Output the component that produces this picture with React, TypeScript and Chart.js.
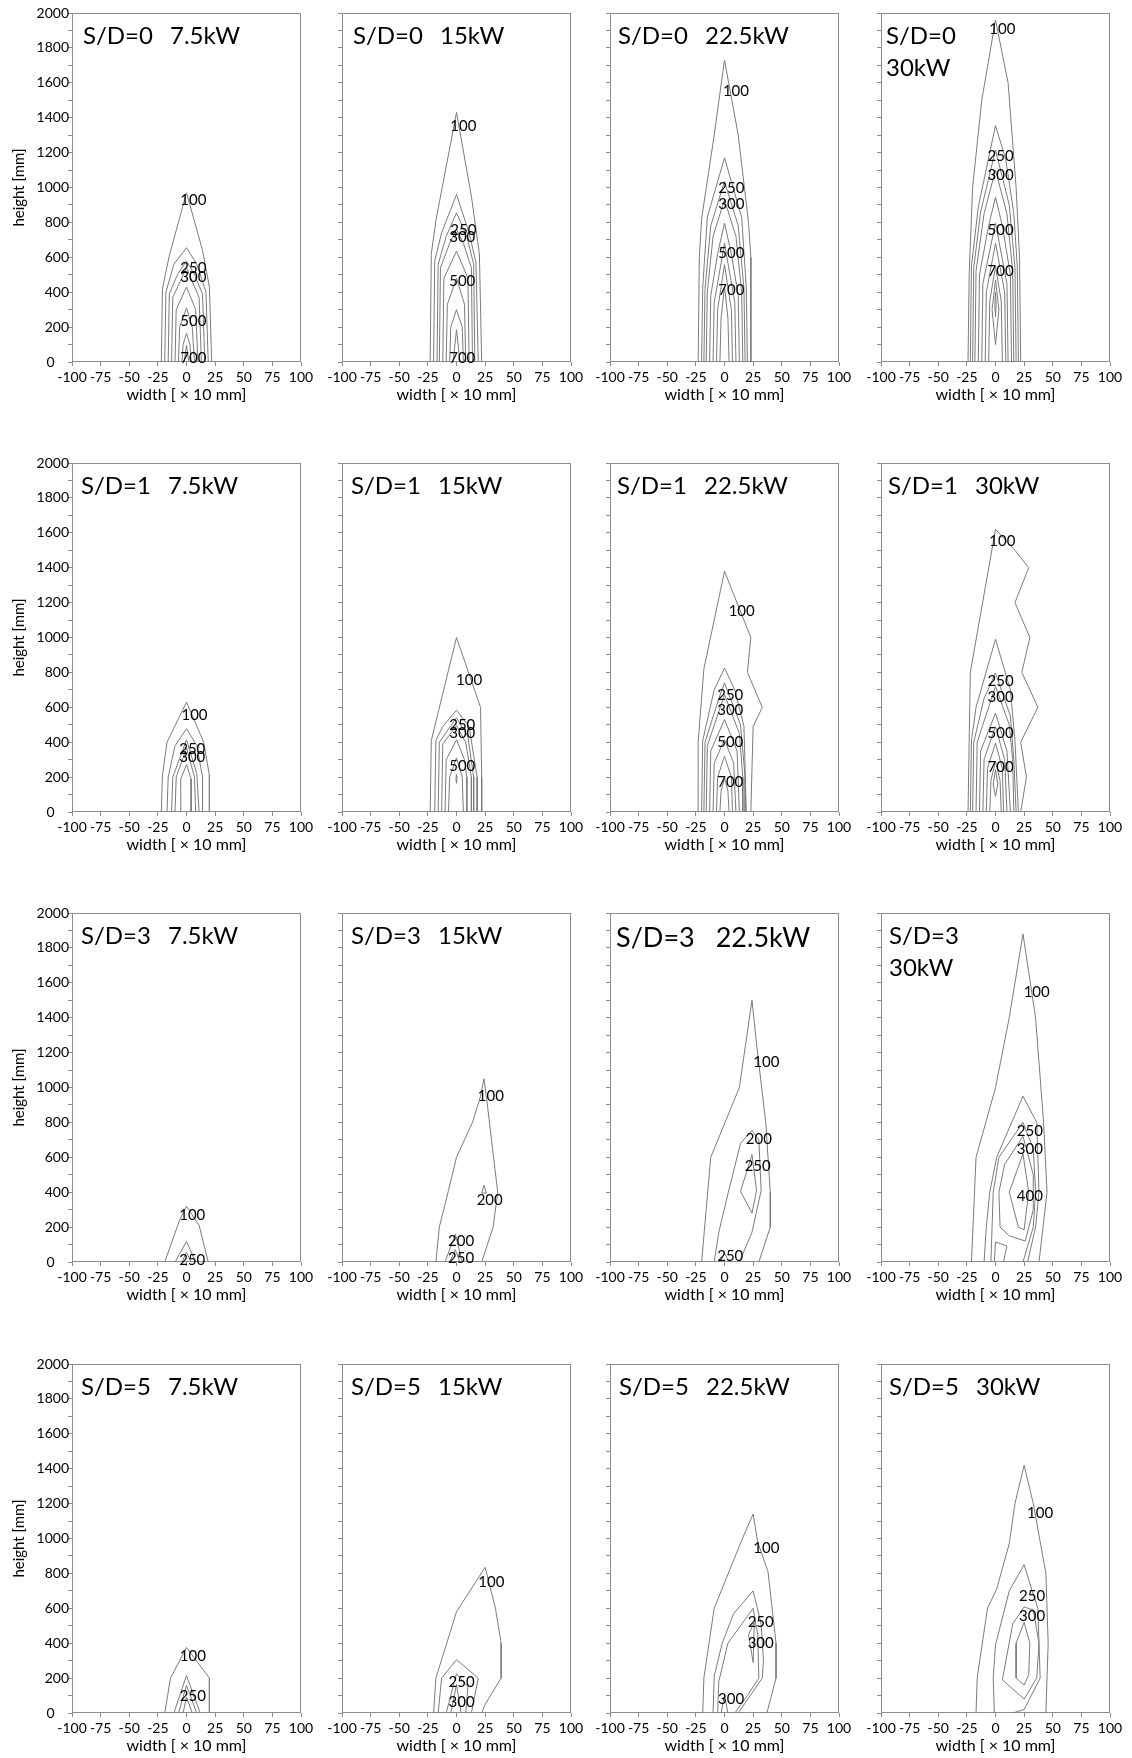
import React, { useEffect, useRef } from 'react';
import { Chart, registerables } from 'chart.js';

Chart.register(...registerables);
Chart.defaults.font.family = 'Lato, "Open Sans", sans-serif';

type Pt = [number, number];
type Contour = { level: number; pts: Pt[] };
type Tag = [number, number, number]; // level, x, y

// ---------- panel headings ----------
const SPACING_LABELS = ['S/D=0', 'S/D=1', 'S/D=3', 'S/D=5'];
const POWER_LABELS = ['7.5kW', '15kW', '22.5kW', '30kW'];

// ---------- axes ----------
const X_MIN = -100;
const X_MAX = 100;
const X_STEP = 25;
const Y_MIN = 0;
const Y_MAX = 2000;
const Y_STEP = 100;
const Y_LABEL_STEP = 200;

// ---------- S/D = 0 ----------
const SD0_75: Contour[] = [
  { level: 100, pts: [[-22, 0], [-21, 420], [-15, 610], [0, 970], [14, 640], [20, 430], [22, 0]] },
  { level: 200, pts: [[-19, 0], [-18, 400], [-11, 560], [0, 655], [9, 560], [17, 400], [19, 0]] },
  { level: 250, pts: [[-16, 0], [-15, 390], [-8, 500], [0, 580], [7, 500], [14, 390], [16, 0]] },
  { level: 300, pts: [[-13, 0], [-12, 370], [0, 540], [11, 370], [13, 0]] },
  { level: 400, pts: [[-10, 0], [-9, 300], [0, 430], [8, 300], [10, 0]] },
  { level: 500, pts: [[-7, 0], [-6, 200], [0, 310], [5, 200], [7, 0]] },
  { level: 600, pts: [[-4, 0], [-3, 100], [0, 165], [3, 100], [4, 0]] },
  { level: 700, pts: [[-2, 0], [0, 95], [2, 0]] },
];
const SD0_75_TAGS: Tag[] = [[100, 6, 930], [250, 6, 540], [300, 6, 485], [500, 6, 235], [700, 6, 20]];

const SD0_15: Contour[] = [
  { level: 100, pts: [[-23, 0], [-22, 620], [-18, 810], [0, 1430], [13, 950], [20, 620], [22, 0]] },
  { level: 200, pts: [[-20, 0], [-19, 580], [-13, 740], [0, 960], [11, 740], [17, 570], [19, 0]] },
  { level: 250, pts: [[-17, 0], [-16, 560], [-9, 720], [0, 855], [9, 720], [15, 560], [16, 0]] },
  { level: 300, pts: [[-15, 0], [-14, 540], [-6, 680], [0, 760], [6, 680], [13, 540], [14, 0]] },
  { level: 400, pts: [[-12, 0], [-11, 480], [0, 635], [10, 480], [11, 0]] },
  { level: 500, pts: [[-9, 0], [-8, 330], [0, 480], [7, 330], [8, 0]] },
  { level: 600, pts: [[-6, 0], [-5, 200], [0, 300], [5, 200], [6, 0]] },
  { level: 700, pts: [[-3, 0], [0, 185], [3, 0]] },
];
const SD0_15_TAGS: Tag[] = [[100, 6, 1350], [250, 6, 758], [300, 5, 716], [500, 5, 462], [700, 5, 23]];

const SD0_225: Contour[] = [
  { level: 100, pts: [[-23, 0], [-22, 600], [-20, 820], [-9, 1300], [0, 1730], [12, 1300], [21, 800], [23, 600], [23, 0]] },
  { level: 200, pts: [[-20, 0], [-19, 430], [-15, 830], [0, 1170], [15, 830], [19, 430], [20, 0]] },
  { level: 250, pts: [[-18, 0], [-17, 420], [-12, 780], [0, 1035], [12, 780], [17, 420], [18, 0]] },
  { level: 300, pts: [[-16, 0], [-15, 400], [-10, 720], [0, 930], [10, 720], [15, 400], [16, 0]] },
  { level: 400, pts: [[-13, 0], [-12, 380], [-6, 620], [0, 796], [6, 620], [12, 380], [13, 0]] },
  { level: 500, pts: [[-10, 0], [-9, 340], [0, 680], [9, 340], [10, 0]] },
  { level: 600, pts: [[-7, 0], [-6, 300], [0, 558], [6, 300], [7, 0]] },
  { level: 700, pts: [[-4, 0], [-3, 250], [0, 434], [3, 250], [4, 0]] },
];
const SD0_225_TAGS: Tag[] = [[100, 10, 1551], [250, 6, 997], [300, 6, 907], [500, 6, 625], [700, 6, 409]];

const SD0_30: Contour[] = [
  { level: 100, pts: [[-24, 0], [-23, 500], [-20, 1000], [-12, 1500], [0, 1960], [11, 1600], [18, 1000], [21, 600], [22, 0]] },
  { level: 200, pts: [[-22, 0], [-21, 550], [-15, 890], [0, 1355], [9, 1160], [16, 850], [19, 550], [20, 0]] },
  { level: 250, pts: [[-20, 0], [-19, 540], [-13, 860], [0, 1215], [12, 900], [17, 540], [18, 0]] },
  { level: 300, pts: [[-18, 0], [-17, 520], [-10, 850], [0, 1100], [10, 850], [15, 520], [16, 0]] },
  { level: 400, pts: [[-15, 0], [-14, 500], [-6, 780], [0, 945], [6, 780], [13, 500], [14, 0]] },
  { level: 500, pts: [[-12, 0], [-11, 450], [0, 796], [10, 450], [11, 0]] },
  { level: 600, pts: [[-9, 0], [-8, 400], [0, 680], [8, 400], [9, 0]] },
  { level: 700, pts: [[-6, 0], [-5, 350], [0, 548], [5, 350], [6, 0]] },
  { level: 800, pts: [[0, 100], [-3, 300], [0, 470], [3, 300], [0, 100]] },
  { level: 900, pts: [[0, 260], [-0.6, 330], [0, 400], [0.6, 330], [0, 260]] },
];
const SD0_30_TAGS: Tag[] = [[100, 6, 1908], [250, 4.5, 1178], [300, 4.5, 1073], [500, 4.5, 758], [700, 4.5, 520]];

// ---------- S/D = 1 ----------
const SD1_75: Contour[] = [
  { level: 100, pts: [[-22, 0], [-21, 210], [-17, 400], [0, 630], [15, 400], [20, 210], [20, 0]] },
  { level: 200, pts: [[-17, 0], [-16, 200], [-10, 380], [0, 477], [9, 380], [14, 200], [14, 0]] },
  { level: 250, pts: [[-13, 0], [-12, 200], [0, 414], [9, 220], [11, 0]] },
  { level: 300, pts: [[-10, 0], [-9, 200], [0, 367], [7, 200], [8, 0]] },
  { level: 400, pts: [[-5, 0], [-5, 190], [0, 271], [4, 190], [4, 0]] },
];
const SD1_75_TAGS: Tag[] = [[100, 7, 554], [250, 5, 361], [300, 5, 315]];

const SD1_15: Contour[] = [
  { level: 100, pts: [[-23, 0], [-22, 410], [0, 1000], [21, 600], [22, 200], [22, 0]] },
  { level: 200, pts: [[-19, 0], [-18, 410], [-12, 490], [0, 583], [11, 490], [18, 200], [18, 0]] },
  { level: 250, pts: [[-16, 0], [-15, 400], [0, 540], [10, 430], [15, 200], [15, 0]] },
  { level: 300, pts: [[-13, 0], [-12, 390], [0, 495], [8, 400], [13, 200], [13, 0]] },
  { level: 400, pts: [[-10, 0], [-9, 300], [0, 414], [7, 300], [9, 200], [9, 0]] },
  { level: 500, pts: [[-7, 0], [-6, 200], [0, 310], [5, 200], [6, 0]] },
  { level: 600, pts: [[0, 165], [-0.5, 190], [0, 215], [0.5, 190], [0, 165]] },
];
const SD1_15_TAGS: Tag[] = [[100, 11, 754], [250, 5, 500], [300, 5, 453], [500, 5, 265]];

const SD1_225: Contour[] = [
  { level: 100, pts: [[-23, 0], [-23, 400], [-18, 820], [0, 1380], [23, 1000], [20, 800], [33, 600], [25, 490], [23, 0]] },
  { level: 200, pts: [[-20, 0], [-19, 410], [-9, 700], [0, 825], [9, 700], [17, 490], [19, 0]] },
  { level: 250, pts: [[-18, 0], [-17, 400], [-5, 650], [0, 740], [14, 500], [18, 200], [18, 0]] },
  { level: 300, pts: [[-16, 0], [-15, 380], [0, 672], [13, 450], [16, 200], [16, 0]] },
  { level: 400, pts: [[-13, 0], [-12, 350], [0, 530], [11, 350], [13, 0]] },
  { level: 500, pts: [[-10, 0], [-9, 280], [0, 415], [8, 280], [10, 0]] },
  { level: 600, pts: [[-7, 0], [-6, 200], [0, 320], [6, 200], [7, 0]] },
  { level: 700, pts: [[-4, 0], [-3, 120], [0, 195], [3, 120], [4, 0]] },
];
const SD1_225_TAGS: Tag[] = [[100, 15, 1150], [250, 5, 672], [300, 5, 583], [500, 5, 400], [700, 5, 170]];

const SD1_30: Contour[] = [
  { level: 100, pts: [[-24, 0], [-23, 400], [-22, 800], [0, 1620], [17, 1500], [29, 1400], [17, 1200], [30, 1000], [23, 800], [37, 600], [22, 400], [27, 200], [22, 0]] },
  { level: 200, pts: [[-22, 0], [-21, 410], [-17, 600], [0, 990], [13, 700], [17, 410], [20, 0]] },
  { level: 250, pts: [[-20, 0], [-19, 400], [-10, 650], [0, 796], [13, 550], [16, 300], [18, 0]] },
  { level: 300, pts: [[-17, 0], [-16, 400], [0, 720], [12, 500], [15, 300], [16, 0]] },
  { level: 400, pts: [[-14, 0], [-13, 350], [0, 567], [10, 350], [13, 0]] },
  { level: 500, pts: [[-11, 0], [-10, 300], [0, 490], [8, 300], [10, 0]] },
  { level: 600, pts: [[-8, 0], [-7, 250], [0, 395], [6, 250], [7, 0]] },
  { level: 700, pts: [[-5, 0], [-4, 180], [0, 290], [4, 180], [5, 0]] },
  { level: 800, pts: [[0, 90], [-2, 160], [0, 243], [2, 160], [0, 90]] },
];
const SD1_30_TAGS: Tag[] = [[100, 6, 1551], [250, 4.5, 749], [300, 4.5, 659], [500, 4.5, 449], [700, 4.5, 258]];

// ---------- S/D = 3 ----------
const SD3_75: Contour[] = [
  { level: 100, pts: [[-19, 0], [-6, 240], [0, 320], [11, 210], [19, 0]] },
  { level: 200, pts: [[-10, 0], [0, 118], [8, 0]] },
  { level: 250, pts: [[-4, 0], [0, 55], [4, 0]] },
];
const SD3_75_TAGS: Tag[] = [[100, 5, 271], [250, 5, 12]];

const SD3_15: Contour[] = [
  { level: 100, pts: [[-18, 0], [-15, 200], [-7, 410], [0, 600], [14, 800], [21, 950], [24, 1050], [27, 900], [32, 620], [36, 400], [32, 200], [22, 0]] },
  { level: 200, pts: [[22, 395], [24, 440], [26, 395], [22, 395]] },
  { level: 200, pts: [[-10, 0], [-1, 160], [5, 0]] },
  { level: 250, pts: [[-6, 0], [-1, 70], [3, 0]] },
];
const SD3_15_TAGS: Tag[] = [[100, 30, 949], [200, 29, 357], [200, 4, 118], [250, 4, 23]];

const SD3_225: Contour[] = [
  { level: 100, pts: [[-20, 0], [-16, 300], [-12, 600], [13, 1000], [24, 1500], [28, 1250], [36, 800], [40, 400], [40, 200], [30, 0]] },
  { level: 200, pts: [[-9, 0], [-5, 170], [3, 390], [14, 680], [24, 755], [30, 700], [32, 410], [24, 170], [13, 0]] },
  { level: 250, pts: [[24, 615], [14, 405], [24, 280], [28, 410], [24, 615]] },
  { level: 250, pts: [[-4, 0], [0, 50], [4, 0]] },
];
const SD3_225_TAGS: Tag[] = [[100, 36.5, 1146], [200, 30, 705], [250, 29, 552], [250, 5, 36]];

const SD3_30: Contour[] = [
  { level: 100, pts: [[-21, 0], [-17, 600], [-8, 810], [0, 1000], [12, 1400], [24, 1880], [35, 1400], [42, 800], [45, 400], [38, 0]] },
  { level: 200, pts: [[-10, 0], [-8, 200], [-5, 400], [1, 600], [24, 950], [36, 800], [38, 400], [35, 200], [28, 0]] },
  { level: 250, pts: [[-4, 0], [-2, 400], [3, 600], [24, 800], [33, 650], [35, 400], [33, 200], [24, 0]] },
  { level: 300, pts: [[24, 720], [8, 560], [3, 400], [4, 200], [12, 150], [26, 120], [33, 300], [33, 500], [24, 720]] },
  { level: 300, pts: [[-1, 0], [0, 115], [10, 92], [7, 0]] },
  { level: 400, pts: [[24, 620], [12, 400], [20, 200], [25, 185], [29, 400], [24, 620]] },
];
const SD3_30_TAGS: Tag[] = [[100, 36, 1545], [250, 30, 749], [300, 30, 648], [400, 30, 380]];

// ---------- S/D = 5 ----------
const SD5_75: Contour[] = [
  { level: 100, pts: [[-19, 0], [-14, 200], [0, 375], [20, 200], [20, 0]] },
  { level: 200, pts: [[-11, 0], [0, 215], [12, 0]] },
  { level: 250, pts: [[-7, 0], [0, 158], [9, 0]] },
  { level: 300, pts: [[-3, 0], [0, 90], [5, 0]] },
];
const SD5_75_TAGS: Tag[] = [[100, 5.5, 325], [250, 5.5, 97]];

const SD5_15: Contour[] = [
  { level: 100, pts: [[-20, 0], [-18, 200], [0, 580], [25, 835], [34, 600], [39, 400], [39, 200], [25, 50], [22, 0]] },
  { level: 200, pts: [[-16, 0], [-13, 200], [0, 305], [19, 200], [13, 0]] },
  { level: 250, pts: [[-9, 0], [0, 225], [10, 150], [8, 0]] },
  { level: 300, pts: [[-5, 0], [0, 163], [4, 0]] },
];
const SD5_15_TAGS: Tag[] = [[100, 30.5, 751], [250, 4.5, 178], [300, 4.5, 63]];

const SD5_225: Contour[] = [
  { level: 100, pts: [[-19, 0], [-18, 200], [-9, 600], [15, 990], [25, 1140], [29, 980], [38, 810], [45, 400], [45, 200], [37, 0]] },
  { level: 250, pts: [[-10, 0], [-9, 210], [-2, 400], [8, 570], [25, 700], [32, 510], [34, 300], [33, 200], [12, 0]] },
  { level: 300, pts: [[-6, 0], [-5, 180], [3, 400], [25, 600], [29, 450], [30, 200], [20, 100], [9, 0]] },
  { level: 300, pts: [[25, 290], [21, 450], [26, 520], [25, 290]] },
  { level: 300, pts: [[-3, 0], [0, 100], [3, 0]] },
];
const SD5_225_TAGS: Tag[] = [[100, 36.5, 947], [250, 31.6, 522], [300, 31.6, 398], [300, 5.8, 82]];

const SD5_30: Contour[] = [
  { level: 100, pts: [[-17, 0], [-16, 200], [-7, 600], [1, 710], [12, 970], [17, 1200], [25, 1420], [33, 1200], [44, 800], [46, 400], [44, 0]] },
  { level: 250, pts: [[-1, 0], [-2, 200], [0, 390], [12, 700], [25, 850], [32, 700], [37, 600], [39, 200], [25, 20], [15, 0]] },
  { level: 300, pts: [[25, 608], [15, 510], [6, 190], [25, 80], [36, 200], [38, 400], [33, 590], [25, 608]] },
  { level: 400, pts: [[25, 520], [18, 400], [18, 200], [25, 160], [29, 220], [30, 400], [25, 520]] },
];
const SD5_30_TAGS: Tag[] = [[100, 39, 1147], [250, 32, 669], [300, 32, 554]];

// Row-major grid of panels: rows = spacing ratio, columns = heat release rate
const PANEL_CONTOURS: Contour[][] = [
  SD0_75, SD0_15, SD0_225, SD0_30,
  SD1_75, SD1_15, SD1_225, SD1_30,
  SD3_75, SD3_15, SD3_225, SD3_30,
  SD5_75, SD5_15, SD5_225, SD5_30,
];
const PANEL_TAGS: Tag[][] = [
  SD0_75_TAGS, SD0_15_TAGS, SD0_225_TAGS, SD0_30_TAGS,
  SD1_75_TAGS, SD1_15_TAGS, SD1_225_TAGS, SD1_30_TAGS,
  SD3_75_TAGS, SD3_15_TAGS, SD3_225_TAGS, SD3_30_TAGS,
  SD5_75_TAGS, SD5_15_TAGS, SD5_225_TAGS, SD5_30_TAGS,
];

// ---------- layout & style ----------
const PLOT_LEFT = [72, 342, 610, 881];
const PLOT_TOP = [13, 463, 913, 1364];
const PLOT_W = 229;
const PLOT_H = 349;
const AXIS_W = 72;
const PAD_TOP = 13;
const PAD_RIGHT = 20;
const X_AXIS_H = 48;
const CANVAS_W = AXIS_W + PLOT_W + PAD_RIGHT;
const CANVAS_H = PAD_TOP + PLOT_H + X_AXIS_H;

const LINE_COLOR = '#7b7b7b';
const FRAME_COLOR = '#8c8c8c';
const TEXT_COLOR = '#000000';
const FONT = 'Lato, "Open Sans", sans-serif';

const TICK_SIZE = 14;
const AXIS_TITLE_SIZE = 16;
const TAG_SIZE = 15;
const HEADING_SIZE = 24;
const HEADING_SIZE_LARGE = 27;
const TWO_LINE_HEADINGS = ['0-3', '2-3'];
const LARGE_HEADINGS = ['2-2'];
// horizontal inset of each heading from the plot's left edge, row by row
const HEADING_INSET = [
  [11, 11, 8, 5],
  [9, 9, 7, 7],
  [9, 9, 6, 8],
  [9, 9, 9, 8],
];

const framePlugin = {
  id: 'frame',
  beforeDatasetsDraw(chart: any) {
    const { ctx, chartArea } = chart;
    ctx.save();
    ctx.strokeStyle = FRAME_COLOR;
    ctx.lineWidth = 1;
    const l = Math.round(chartArea.left) + 0.5;
    const t = Math.round(chartArea.top) + 0.5;
    const r = Math.round(chartArea.right) - 0.5;
    const b = Math.round(chartArea.bottom) - 0.5;
    ctx.strokeRect(l, t, r - l, b - t);
    ctx.restore();
  },
};

function makeTagPlugin(tags: Tag[]) {
  return {
    id: 'contourTags',
    afterDatasetsDraw(chart: any) {
      const { ctx, scales } = chart;
      ctx.save();
      ctx.font = `${TAG_SIZE}px ${FONT}`;
      ctx.fillStyle = TEXT_COLOR;
      ctx.textAlign = 'center';
      ctx.textBaseline = 'middle';
      for (const [level, x, y] of tags) {
        ctx.fillText(String(level), scales.x.getPixelForValue(x), scales.y.getPixelForValue(y));
      }
      ctx.restore();
    },
  };
}

function makeHeadingPlugin(row: number, col: number) {
  const key = `${row}-${col}`;
  const twoLine = TWO_LINE_HEADINGS.includes(key);
  const large = LARGE_HEADINGS.includes(key);
  const size = large ? HEADING_SIZE_LARGE : HEADING_SIZE;
  const first = SPACING_LABELS[row];
  const second = POWER_LABELS[col];
  const inset = HEADING_INSET[row][col];
  return {
    id: 'heading',
    afterDraw(chart: any) {
      const { ctx, chartArea } = chart;
      ctx.save();
      ctx.font = `${size}px ${FONT}`;
      ctx.fillStyle = TEXT_COLOR;
      ctx.textAlign = 'left';
      ctx.textBaseline = 'alphabetic';
      const x0 = chartArea.left + inset;
      const base = chartArea.top + (large ? 34 : 31);
      ctx.fillText(first, x0, base);
      if (twoLine) {
        ctx.fillText(second, x0, base + 32);
      } else {
        const gap = large ? 21 : 17;
        ctx.fillText(second, x0 + ctx.measureText(first).width + gap, base);
      }
      ctx.restore();
    },
  };
}

function Panel({ row, col }: { row: number; col: number }) {
  const ref = useRef<HTMLCanvasElement>(null);

  useEffect(() => {
    const idx = row * 4 + col;
    const contours = PANEL_CONTOURS[idx];
    const tags = PANEL_TAGS[idx];
    const datasets = contours.map((c) => ({
      label: String(c.level),
      data: c.pts.map(([x, y]) => ({ x, y })),
      showLine: true,
      pointRadius: 0,
      pointHoverRadius: 0,
      borderColor: LINE_COLOR,
      borderWidth: 1,
      tension: 0,
      fill: false,
    }));

    const chart = new Chart(ref.current as HTMLCanvasElement, {
      type: 'scatter',
      data: { datasets },
      options: {
        animation: false,
        responsive: false,
        events: [],
        layout: { padding: { left: 0, top: PAD_TOP, right: PAD_RIGHT, bottom: 0 } },
        plugins: {
          legend: { display: false },
          tooltip: { enabled: false },
        },
        scales: {
          x: {
            type: 'linear',
            min: X_MIN,
            max: X_MAX,
            afterFit: (s: any) => {
              s.height = X_AXIS_H;
            },
            border: { display: false },
            grid: {
              drawOnChartArea: false,
              drawTicks: true,
              tickLength: 4,
              color: FRAME_COLOR,
            },
            ticks: {
              stepSize: X_STEP,
              autoSkip: false,
              maxRotation: 0,
              minRotation: 0,
              padding: 3,
              color: TEXT_COLOR,
              font: { size: TICK_SIZE, family: FONT },
              callback: (v: any) => String(v),
            },
            title: {
              display: true,
              text: 'width [ × 10 mm]',
              color: TEXT_COLOR,
              font: { size: AXIS_TITLE_SIZE, family: FONT },
              padding: { top: 0, bottom: 6 },
            },
          },
          y: {
            type: 'linear',
            min: Y_MIN,
            max: Y_MAX,
            afterFit: (s: any) => {
              s.width = AXIS_W;
            },
            border: { display: false },
            grid: {
              drawOnChartArea: false,
              drawTicks: true,
              tickLength: 4,
              color: FRAME_COLOR,
            },
            ticks: {
              stepSize: Y_STEP,
              autoSkip: false,
              padding: -1,
              color: TEXT_COLOR,
              font: { size: TICK_SIZE, family: FONT },
              callback: (v: any) => {
                if (col !== 0 || v % Y_LABEL_STEP !== 0) return '';
                return v === 0 ? '0    ' : String(v);
              },
            },
            title: {
              display: col === 0,
              text: 'height [mm]',
              color: TEXT_COLOR,
              font: { size: 15, family: FONT },
              padding: { top: 10, bottom: 0 },
            },
          },
        },
      },
      plugins: [framePlugin, makeTagPlugin(tags), makeHeadingPlugin(row, col)],
    } as any);

    return () => chart.destroy();
  }, [row, col]);

  return (
    <canvas
      ref={ref}
      width={CANVAS_W}
      height={CANVAS_H}
      style={{
        position: 'absolute',
        left: PLOT_LEFT[col] - AXIS_W,
        top: PLOT_TOP[row] - PAD_TOP,
        width: CANVAS_W,
        height: CANVAS_H,
      }}
    />
  );
}

export default function App() {
  const cells: JSX.Element[] = [];
  for (let r = 0; r < 4; r++) {
    for (let c = 0; c < 4; c++) {
      cells.push(<Panel key={`${r}-${c}`} row={r} col={c} />);
    }
  }
  return (
    <div
      style={{
        position: 'absolute',
        left: 0,
        top: 0,
        width: 1132,
        height: 1758,
        background: '#ffffff',
        overflow: 'hidden',
      }}
    >
      {cells}
    </div>
  );
}
